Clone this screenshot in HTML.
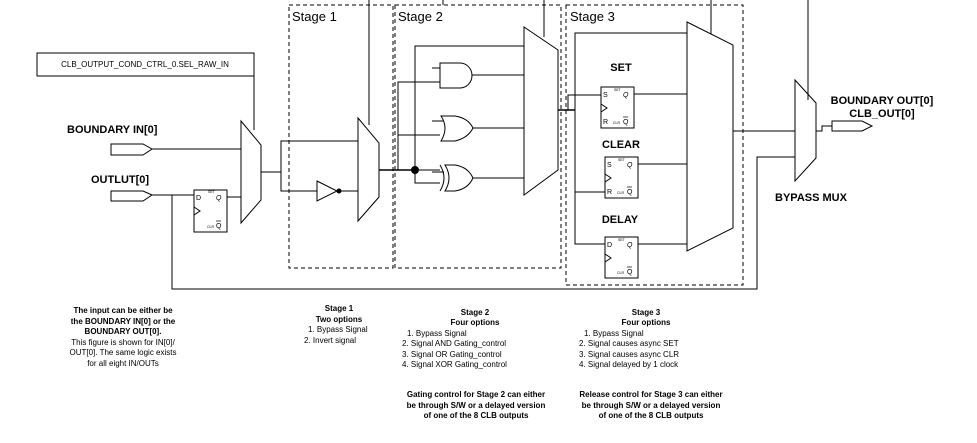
<!DOCTYPE html>
<html><head><meta charset="utf-8"><style>
html,body{margin:0;padding:0;background:#fff;}
svg{display:block;}
text{font-family:"Liberation Sans",Arial,sans-serif;fill:#000;}
.b{font-weight:bold;}
</style></head><body>
<svg width="977" height="443" viewBox="0 0 977 443" xmlns="http://www.w3.org/2000/svg">
<g fill="none" stroke="#000" stroke-width="1">
<!-- CLB box -->
<rect x="37" y="53" width="217" height="23" fill="#fff"/>
<line x1="254" y1="76" x2="254" y2="130"/>
<!-- input pins -->
<polygon points="111,144 143,144 152,149 143,155 111,155"/>
<polygon points="111,191 143,191 152,195 143,201 111,201"/>
<line x1="152" y1="149" x2="241" y2="149"/>
<line x1="152" y1="195" x2="194" y2="195"/>
<polyline points="172,195 172,289 757,289 757,157 795,157"/>
<!-- FF1 -->
<rect x="194" y="190" width="33" height="42"/>
<polyline points="194,207 200,211 194,215"/>
<line x1="227" y1="197" x2="241" y2="197"/>
<!-- mux1 -->
<polygon points="241,121 261,145 261,200 241,223" fill="#fff"/>
<polyline points="261,172 281,172"/>
<polyline points="358,141 281,141 281,191 317,191"/>
<!-- inverter -->
<polygon points="317,181 337,191 317,201"/>
<circle cx="339" cy="191" r="2" fill="#000"/>
<line x1="341" y1="191" x2="358" y2="191"/>
<!-- stage1 mux -->
<polygon points="358,118 379,143 379,197 358,221" fill="#fff"/>
<line x1="369" y1="0" x2="369" y2="125"/>
<line x1="379" y1="170" x2="415" y2="170" stroke-width="1.5"/>
<!-- stage2 -->
<polyline points="440,82 398,82 398,170"/>
<line x1="398" y1="135" x2="440" y2="135"/>
<polyline points="524,46 415,46 415,183 440,183"/>
<line x1="415" y1="170" x2="440" y2="170"/>
<circle cx="415" cy="170" r="3.5" fill="#000"/>
<line x1="432" y1="68" x2="440" y2="68"/>
<line x1="432" y1="121" x2="443" y2="121"/>
<line x1="432" y1="172" x2="444" y2="172"/>
<!-- AND -->
<path d="M440,63 H460 A12,12.5 0 0 1 460,88 H440 Z"/>
<line x1="472" y1="75" x2="524" y2="75"/>
<!-- OR -->
<path d="M441,116 H455 Q468,118 473,128 Q468,138 455,141 H441 Q449,128 441,116 Z"/>
<line x1="473" y1="128" x2="524" y2="128"/>
<!-- XOR -->
<path d="M445,165 H455 Q468,167 473,178 Q468,189 455,191 H445 Q453,178 445,165 Z"/>
<path d="M440,165 Q448,178 440,191"/>
<line x1="473" y1="178" x2="524" y2="178"/>
<!-- mux3 -->
<polygon points="524,27 558,50 558,170 524,195" fill="#fff"/>
<polyline points="443,0 443,5"/>
<line x1="544" y1="0" x2="544" y2="37"/>
<line x1="558" y1="110" x2="575" y2="110" stroke-width="1.5"/>
<polyline points="568,110 568,95 601,95"/>
<polyline points="687,33 575,33 575,244 605,244"/>
<line x1="575" y1="192" x2="605" y2="192"/>
<!-- FFs stage 3 -->
<rect x="601" y="87" width="33" height="41"/>
<polyline points="601,104 607,108 601,112"/>
<line x1="634" y1="94" x2="687" y2="94"/>
<rect x="605" y="157" width="33" height="41"/>
<polyline points="605,174 611,178 605,182"/>
<line x1="638" y1="164" x2="687" y2="164"/>
<rect x="605" y="237" width="33" height="41"/>
<polyline points="605,254 611,258 605,262"/>
<line x1="638" y1="244" x2="687" y2="244"/>
<!-- mux4 -->
<polygon points="687,22 733,45 733,228 687,251" fill="#fff"/>
<line x1="711" y1="0" x2="711" y2="34"/>
<line x1="733" y1="131" x2="795" y2="131"/>
<!-- bypass mux -->
<polygon points="795,80 816,103 816,158 795,181" fill="#fff"/>
<line x1="808" y1="0" x2="808" y2="100"/>
<polyline points="816,131 822,131 822,126 832,126"/>
<polygon points="832,121 862,121 872,126 862,131 832,131"/>
<!-- dashed boxes -->
<g stroke-dasharray="4,3">
<rect x="289" y="5" width="104" height="263"/>
<rect x="395" y="5" width="166" height="263"/>
<rect x="566" y="5" width="177" height="280"/>
</g>
</g>
<!-- text -->
<text x="145" y="67" font-size="8" text-anchor="middle">CLB_OUTPUT_COND_CTRL_0.SEL_RAW_IN</text>
<text x="67" y="133" font-size="11" class="b">BOUNDARY IN[0]</text>
<text x="91" y="183" font-size="11" class="b">OUTLUT[0]</text>
<text x="292" y="21" font-size="13">Stage 1</text>
<text x="398" y="21" font-size="13">Stage 2</text>
<text x="570" y="21" font-size="13">Stage 3</text>
<text x="621" y="71" font-size="11" class="b" text-anchor="middle">SET</text>
<text x="621" y="148" font-size="11" class="b" text-anchor="middle">CLEAR</text>
<text x="620" y="223" font-size="11" class="b" text-anchor="middle">DELAY</text>
<g font-size="7">
<text x="196" y="200">D</text><text x="216" y="200" font-style="italic">Q</text>
<text x="603" y="97">S</text><text x="623" y="97" font-style="italic">Q</text><text x="603" y="124">R</text><text x="623" y="124">Q</text>
<text x="607" y="167">S</text><text x="627" y="167" font-style="italic">Q</text><text x="607" y="194">R</text><text x="627" y="194">Q</text>
<text x="607" y="247">D</text><text x="627" y="247" font-style="italic">Q</text><text x="627" y="274">Q</text>
<text x="216" y="228">Q</text>
</g>
<g font-size="3.5"><text x="208" y="193">SET</text><text x="207" y="228">CLR</text>
<text x="614" y="91">SET</text><text x="613" y="124">CLR</text>
<text x="618" y="161">SET</text><text x="617" y="194">CLR</text>
<text x="618" y="241">SET</text><text x="617" y="274">CLR</text></g>
<g stroke="#000" stroke-width="0.7"><line x1="216" y1="221" x2="221" y2="221"/><line x1="623" y1="117" x2="628" y2="117"/><line x1="627" y1="187" x2="632" y2="187"/><line x1="627" y1="267" x2="632" y2="267"/></g>
<text x="882" y="104" font-size="11" class="b" text-anchor="middle">BOUNDARY OUT[0]</text>
<text x="882" y="117" font-size="11" class="b" text-anchor="middle">CLB_OUT[0]</text>
<text x="811" y="201" font-size="11" class="b" text-anchor="middle">BYPASS MUX</text>
<g font-size="8" text-anchor="middle">
<text x="123" y="313" class="b">The input can be either be</text>
<text x="123" y="324" class="b">the BOUNDARY IN[0] or the</text>
<text x="123" y="334" class="b">BOUNDARY OUT[0].</text>
<text x="123" y="345">This figure is shown for IN[0]/</text>
<text x="123" y="355">OUT[0]. The same logic exists</text>
<text x="123" y="366">for all eight IN/OUTs</text>
<text x="339" y="311" class="b">Stage 1</text>
<text x="339" y="322" class="b">Two options</text>
<text x="475" y="315" class="b">Stage 2</text>
<text x="475" y="325" class="b">Four options</text>
<text x="646" y="315" class="b">Stage 3</text>
<text x="646" y="325" class="b">Four options</text>
<text x="476" y="397" class="b">Gating control for Stage 2 can either</text>
<text x="476" y="408" class="b">be through S/W or a delayed version</text>
<text x="476" y="418" class="b">of one of the 8 CLB outputs</text>
<text x="651" y="397" class="b">Release control for Stage 3 can either</text>
<text x="651" y="408" class="b">be through S/W or a delayed version</text>
<text x="651" y="418" class="b">of one of the 8 CLB  outputs</text>
</g>
<g font-size="8">
<text x="308" y="332">1. Bypass Signal</text>
<text x="304" y="343">2. Invert signal</text>
<text x="407" y="336">1. Bypass Signal</text>
<text x="402" y="346">2. Signal AND Gating_control</text>
<text x="402" y="357">3. Signal OR Gating_control</text>
<text x="402" y="367">4. Signal XOR Gating_control</text>
<text x="584" y="336">1. Bypass Signal</text>
<text x="579" y="346">2. Signal causes async SET</text>
<text x="579" y="357">3. Signal causes async CLR</text>
<text x="579" y="367">4. Signal delayed by 1 clock</text>
</g>
</svg>
</body></html>
